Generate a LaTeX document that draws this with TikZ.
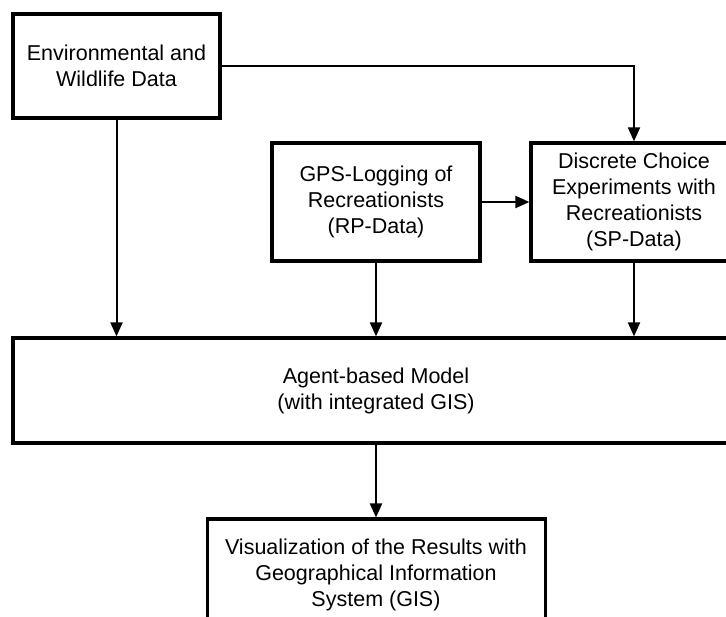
\documentclass[tikz,border=0pt]{standalone}
\usepackage{fontspec}
\setmainfont{Liberation Sans}
\usepackage{tikz}
\usetikzlibrary{arrows.meta}

\begin{document}
\begin{tikzpicture}[x=1pt, y=-1pt,
  box/.style={draw, line width=3.2pt, align=center, inner sep=0pt,
    font=\fontsize{21.5}{26}\selectfont},
  arr/.style={line width=2pt, -{Triangle[length=14pt, width=12pt]}}]

\clip (0,0) rectangle (726,617);

% Data sources
\node[box, minimum width=207, minimum height=104] (env) at (116.5,66) {Environmental and\\Wildlife Data};
\node[box, minimum width=208, minimum height=118] (gps) at (376,202) {GPS-Logging of\\Recreationists\\(RP-Data)};
\node[box, minimum width=206, minimum height=118] (dce) at (634,202) {Discrete Choice\\Experiments with\\Recreationists\\(SP-Data)};

% Model and output
\node[box, minimum width=726, minimum height=105] (abm) at (376,390.5) {Agent-based Model\\(with integrated GIS)};
\node[box, line width=3pt, minimum width=338, minimum height=112] (vis) at (376,575) {Visualization of the Results with\\Geographical Information\\System (GIS)};

% Connections
\draw[arr] (env.east) -| (dce.north);
\draw[arr] (gps.east) -- (dce.west);
\draw[arr] (env.south) -- (env.south |- abm.north);
\draw[arr] (gps.south) -- (gps.south |- abm.north);
\draw[arr] (dce.south) -- (dce.south |- abm.north);
\draw[arr] (abm.south) -- (vis.north);

\end{tikzpicture}
\end{document}
